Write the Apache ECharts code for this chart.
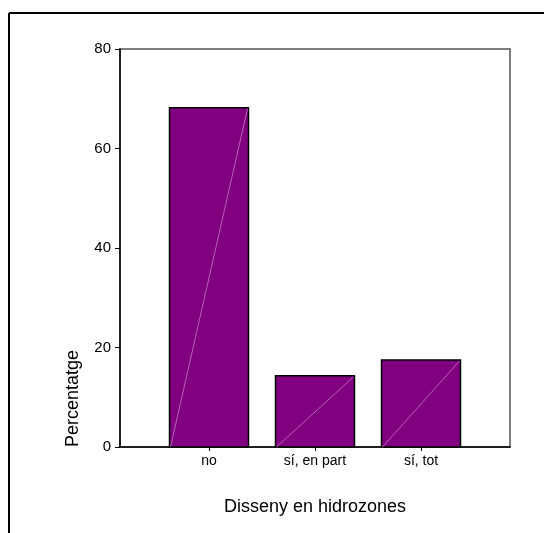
<!DOCTYPE html>
<html>
<head>
<meta charset="utf-8">
<script src="https://cdn.jsdelivr.net/npm/echarts@6/dist/echarts.min.js"></script>
<style>html,body{margin:0;padding:0;background:#fff}#c{width:544px;height:533px}</style>
</head>
<body>
<div id="c"></div>
<script>
const categories = ['no', 'sí, en part', 'sí, tot'];
const percentValues = [68.2, 14.3, 17.5];
const yTicks = [0, 20, 40, 60, 80];
const xTitle = 'Disseny en hidrozones';
const yTitle = 'Percentatge';

const chart = echarts.init(document.getElementById('c'), null, {renderer: 'canvas'});
const FONT = 'Liberation Sans, Arial, sans-serif';

chart.setOption({
  animation: false,
  backgroundColor: '#fff',
  grid: [
    {left: 156, right: 70, top: 49, bottom: 86},
    {left: 120, right: 34, top: 49, bottom: 86, show: true, borderColor: '#555', borderWidth: 1.5, backgroundColor: 'transparent'}
  ],
  xAxis: [
    {type: 'category', gridIndex: 0, data: categories, boundaryGap: true,
     axisLine: {show: false},
     axisTick: {show: true, alignWithLabel: true, length: 4, lineStyle: {color: '#000', width: 1}},
     axisLabel: {fontFamily: FONT, fontSize: 14, color: '#000', margin: 7},
     name: xTitle, nameLocation: 'middle', nameGap: 51,
     nameTextStyle: {fontFamily: FONT, fontSize: 18, color: '#000'}},
    {type: 'value', gridIndex: 1, min: 0, max: 1, show: true,
     axisLine: {show: true, onZero: false, lineStyle: {color: '#000', width: 1.5}},
     axisTick: {show: false}, axisLabel: {show: false}, splitLine: {show: false}}
  ],
  yAxis: [
    {type: 'value', gridIndex: 0, min: yTicks[0], max: yTicks[yTicks.length - 1], interval: 20, show: false},
    {type: 'value', gridIndex: 1, min: yTicks[0], max: yTicks[yTicks.length - 1], interval: 20,
     axisLine: {show: true, lineStyle: {color: '#000', width: 1.5}},
     axisTick: {show: true, length: 5, lineStyle: {color: '#000', width: 1}},
     axisLabel: {fontFamily: FONT, fontSize: 15, color: '#000', margin: 9},
     splitLine: {show: false}}
  ],
  series: [{
    type: 'custom',
    xAxisIndex: 0, yAxisIndex: 0,
    data: percentValues.map((v, i) => [i, v]),
    renderItem: function (params, api) {
      const x = api.value(0), v = api.value(1);
      const top = api.coord([x, v]);
      const base = api.coord([x, 0]);
      const bw = api.size([1, 0])[0] * 0.745;
      const x0 = top[0] - bw / 2, x1 = top[0] + bw / 2;
      return {
        type: 'group',
        children: [
          {type: 'rect', shape: {x: x0, y: top[1], width: bw, height: base[1] - top[1]},
           style: {fill: '#800080', stroke: '#000', lineWidth: 1.5}},
          {type: 'line', shape: {x1: x0 + 1, y1: base[1], x2: x1 - 1, y2: top[1] + 1},
           style: {stroke: '#d08ad0', lineWidth: 0.7}}
        ]
      };
    }
  }],
  graphic: [
    {type: 'line', shape: {x1: 9, y1: 13, x2: 544, y2: 13}, style: {stroke: '#000', lineWidth: 2}},
    {type: 'line', shape: {x1: 9, y1: 13, x2: 9, y2: 533}, style: {stroke: '#000', lineWidth: 2}},
    {type: 'text', x: 73, y: 447, rotation: Math.PI / 2,
     style: {text: yTitle, fontFamily: FONT, fontSize: 18, fill: '#000', textAlign: 'left', textVerticalAlign: 'middle'}}
  ]
});
</script>
</body>
</html>
